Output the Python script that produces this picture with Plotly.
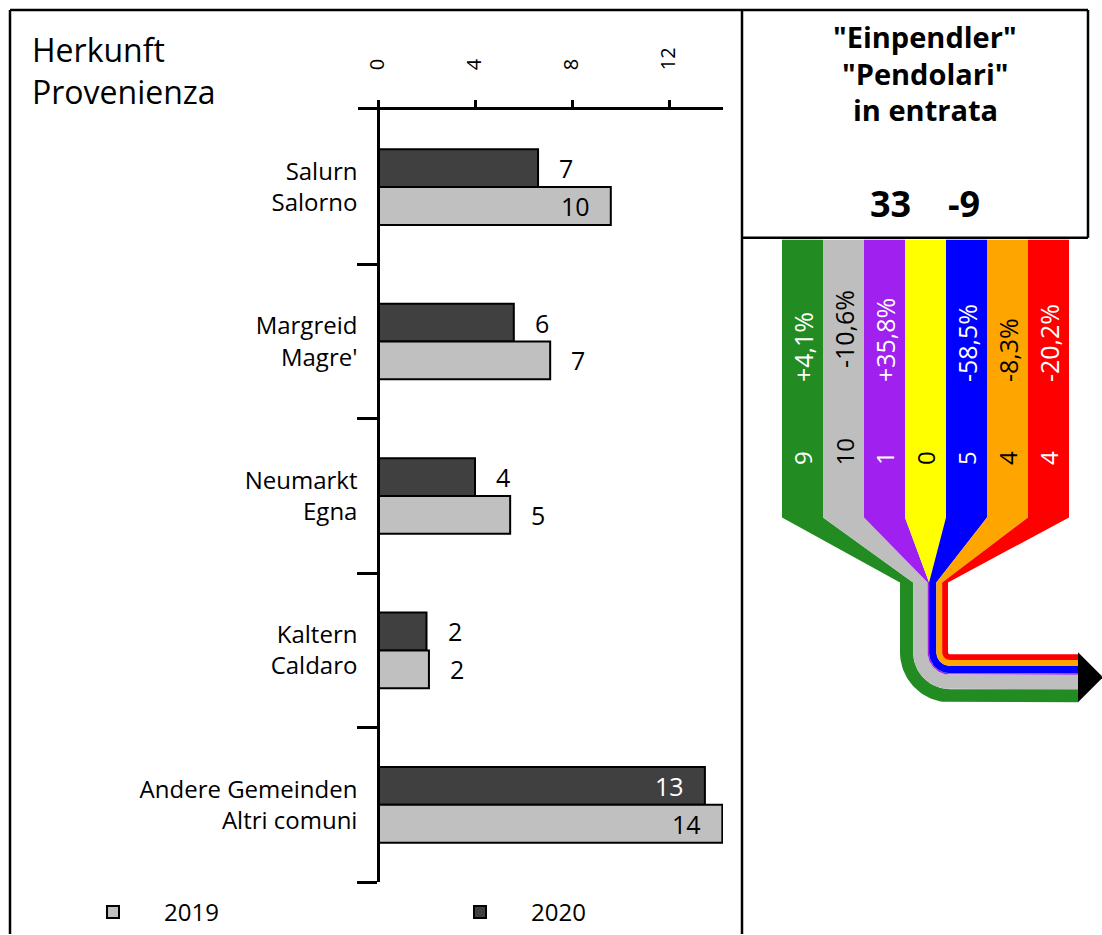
import math
import plotly.graph_objects as go

# ---------------- data ----------------
categories = ["Salurn<br>Salorno", "Margreid<br>Magre'", "Neumarkt<br>Egna",
              "Kaltern<br>Caldaro", "Andere Gemeinden<br>Altri comuni"]
values_2020 = [6.6, 5.6, 4.0, 2.0, 13.48]
values_2019 = [9.6, 7.1, 5.45, 2.1, 14.2]
series_names = ["2019", "2020"]
x_ticks = [0, 4, 8, 12]

band_values = [9, 10, 1, 0, 5, 4, 4]
band_pct = ["+4,1%", "-10,6%", "+35,8%", "", "-58,5%", "-8,3%", "-20,2%"]
band_colors = ["#228B22", "#BEBEBE", "#A020F0", "#FFFF00", "#0000FF", "#FFA500", "#FF0000"]
band_text_colors = ["white", "black", "white", "black", "white", "black", "white"]
total_2020 = 33
total_change = -9

title_left = ["Herkunft", "Provenienza"]
title_right = ['"Einpendler"', '"Pendolari"', "in entrata"]

# ---------------- layout constants (pixels) ----------------
W, H = 1102, 935
FONT = "Open Sans"
def fx(px):
    return px / W
def fy(py):
    return 1 - py / H

x0_px, px_per_unit = 378, 24.25
ax_left_px, ax_right_px = 358, 723
ax_top_px, ax_bot_px = 110, 883

fig = go.Figure()

# ---------------- bar chart ----------------
n = len(categories)
pos = list(range(n))
fig.add_trace(go.Bar(y=pos, x=values_2020, name=series_names[1], orientation="h",
                     marker=dict(color="#404040", line=dict(color="black", width=2)),
                     legendrank=2, hoverinfo="skip"))
fig.add_trace(go.Bar(y=pos, x=values_2019, name=series_names[0], orientation="h",
                     marker=dict(color="#C0C0C0", line=dict(color="black", width=2)),
                     legendrank=1, hoverinfo="skip"))

annotations = []
half = 0.245 / 2
for vals, off, in_col in ((values_2020, -half, "white"), (values_2019, half, "black")):
    for i, v in enumerate(vals):
        inside = v >= 9.5
        annotations.append(dict(
            x=v, y=i + off, xref="x", yref="y", text=f"{v:.0f}", showarrow=False,
            xanchor="right" if inside else "left", xshift=-19 if inside else 19,
            yanchor="middle",
            font=dict(family=FONT, size=25, color=in_col if inside else "black")))

xr0 = (ax_left_px - x0_px) / px_per_unit
xr1 = (ax_right_px - x0_px) / px_per_unit

# ---------------- flow diagram ----------------
band_w = 41
band_x0 = 782
band_top, band_bot, conv_y = 240, 518, 583
flow_left = 900
s = 48 / sum(band_values)
total_w = sum(band_values) * s
r0 = 2
cx = flow_left + total_w + r0
cy = 653
arrow_x = 1078

cum = 0
for i, v in enumerate(band_values):
    bx0 = band_x0 + i * band_w
    bx1 = bx0 + band_w
    X0 = flow_left + cum * s
    X1 = X0 + v * s
    cum += v
    r_in = cx - X1
    r_out = cx - X0
    xs = [bx0, bx1, bx1, X1, X1]
    ys = [band_top, band_top, band_bot, conv_y, cy]
    for k in range(0, 31):
        a = math.pi - (math.pi / 2) * k / 30
        xs.append(cx + r_in * math.cos(a))
        ys.append(cy + r_in * math.sin(a))
    xs += [arrow_x, arrow_x]
    ys += [cy + r_in, cy + r_out]
    for k in range(0, 31):
        a = math.pi / 2 + (math.pi / 2) * k / 30
        xs.append(cx + r_out * math.cos(a))
        ys.append(cy + r_out * math.sin(a))
    xs += [X0, bx0, bx0]
    ys += [conv_y, band_bot, band_top]
    fig.add_trace(go.Scatter(x=xs, y=ys, xaxis="x2", yaxis="y2", mode="lines",
                             fill="toself", fillcolor=band_colors[i],
                             line=dict(width=0, color=band_colors[i]),
                             showlegend=False, hoverinfo="skip"))
    cxb = (bx0 + bx1) / 2
    if band_pct[i]:
        annotations.append(dict(x=cxb, y=371 if i == 1 else 385, xref="x2", yref="y2",
                                text=band_pct[i], textangle=-90, showarrow=False,
                                xanchor="center", yanchor="bottom",
                                font=dict(family=FONT, size=25, color=band_text_colors[i])))
    annotations.append(dict(x=cxb, y=468, xref="x2", yref="y2", text=str(v),
                            textangle=-90, showarrow=False, xanchor="center", yanchor="bottom",
                            font=dict(family=FONT, size=24, color=band_text_colors[i])))

# arrow head
fig.add_trace(go.Scatter(x=[arrow_x, arrow_x, arrow_x + 25, arrow_x],
                         y=[cy, cy + total_w + r0, cy + (total_w + r0) / 2, cy],
                         xaxis="x2", yaxis="y2", mode="lines", fill="toself",
                         fillcolor="black", line=dict(width=0), showlegend=False,
                         hoverinfo="skip"))

# ---------------- texts ----------------
for k, t in enumerate(title_left):
    annotations.append(dict(x=30, y=50 + 42 * k, xref="x2", yref="y2", text=t,
                            showarrow=False, xanchor="left", yanchor="middle",
                            font=dict(family=FONT, size=32, color="black")))
for k, t in enumerate(title_right):
    annotations.append(dict(x=925, y=37 + 36.5 * k, xref="x2", yref="y2", text=f"<b>{t}</b>",
                            showarrow=False, xanchor="center", yanchor="middle",
                            font=dict(family=FONT, size=29, color="black")))
annotations.append(dict(x=890, y=204, xref="x2", yref="y2", text=f"<b>{total_2020}</b>",
                        showarrow=False, xanchor="center", yanchor="middle",
                        font=dict(family=FONT, size=36, color="black")))
annotations.append(dict(x=964, y=204, xref="x2", yref="y2", text=f"<b>{total_change}</b>",
                        showarrow=False, xanchor="center", yanchor="middle",
                        font=dict(family=FONT, size=36, color="black")))

# ---------------- frame lines ----------------
lw = 2.5
frame = [
    (10, 10, 1088, 10),
    (10, 10, 10, 935),
    (742, 10, 742, 935),
    (1088, 10, 1088, 238),
    (742, 238, 1088, 238),
]
shapes = [dict(type="line", xref="x2", yref="y2", x0=a, y0=b, x1=c, y1=d,
               line=dict(color="black", width=lw)) for a, b, c, d in frame]

fig.update_layout(
    width=W, height=H, margin=dict(l=0, r=0, t=0, b=0),
    paper_bgcolor="white", plot_bgcolor="rgba(0,0,0,0)",
    barmode="group", bargap=0.51, bargroupgap=0,
    font=dict(family=FONT, color="black"),
    xaxis=dict(domain=[fx(ax_left_px), fx(ax_right_px)], range=[xr0, xr1],
               side="top", anchor="y", showline=True, linecolor="black", linewidth=2.5,
               tickvals=x_ticks, ticks="outside", ticklen=7, tickwidth=2.5,
               tickcolor="black", tickangle=-90, ticklabelstandoff=26,
               tickfont=dict(family=FONT, size=20), showgrid=False, zeroline=False,
               fixedrange=True),
    yaxis=dict(domain=[fy(ax_bot_px), fy(ax_top_px)], range=[n - 0.5, -0.5],
               anchor="free", position=fx(x0_px), showline=True, linecolor="black",
               linewidth=2.5, tickvals=pos, ticktext=categories, ticks="outside",
               ticklen=0, ticklabelstandoff=15,
               tickfont=dict(family=FONT, size=24),
               minor=dict(tickvals=[i + 0.5 for i in pos], ticks="outside", ticklen=20,
                          tickwidth=2.5, tickcolor="black", showgrid=False),
               showgrid=False, zeroline=False, fixedrange=True),
    xaxis2=dict(domain=[0, 1], range=[0, W], visible=False, fixedrange=True),
    yaxis2=dict(domain=[0, 1], range=[H, 0], visible=False, fixedrange=True, anchor="x2"),
    legend=dict(orientation="h", x=fx(62), xanchor="left", y=fy(913), yanchor="middle",
                itemwidth=92, entrywidth=260, entrywidthmode="pixels",
                font=dict(family=FONT, size=24), bgcolor="rgba(0,0,0,0)"),
    annotations=annotations, shapes=shapes,
)
fig.write_html("out.html", config={"displayModeBar": False},
               post_script="document.body.style.margin='0';")
